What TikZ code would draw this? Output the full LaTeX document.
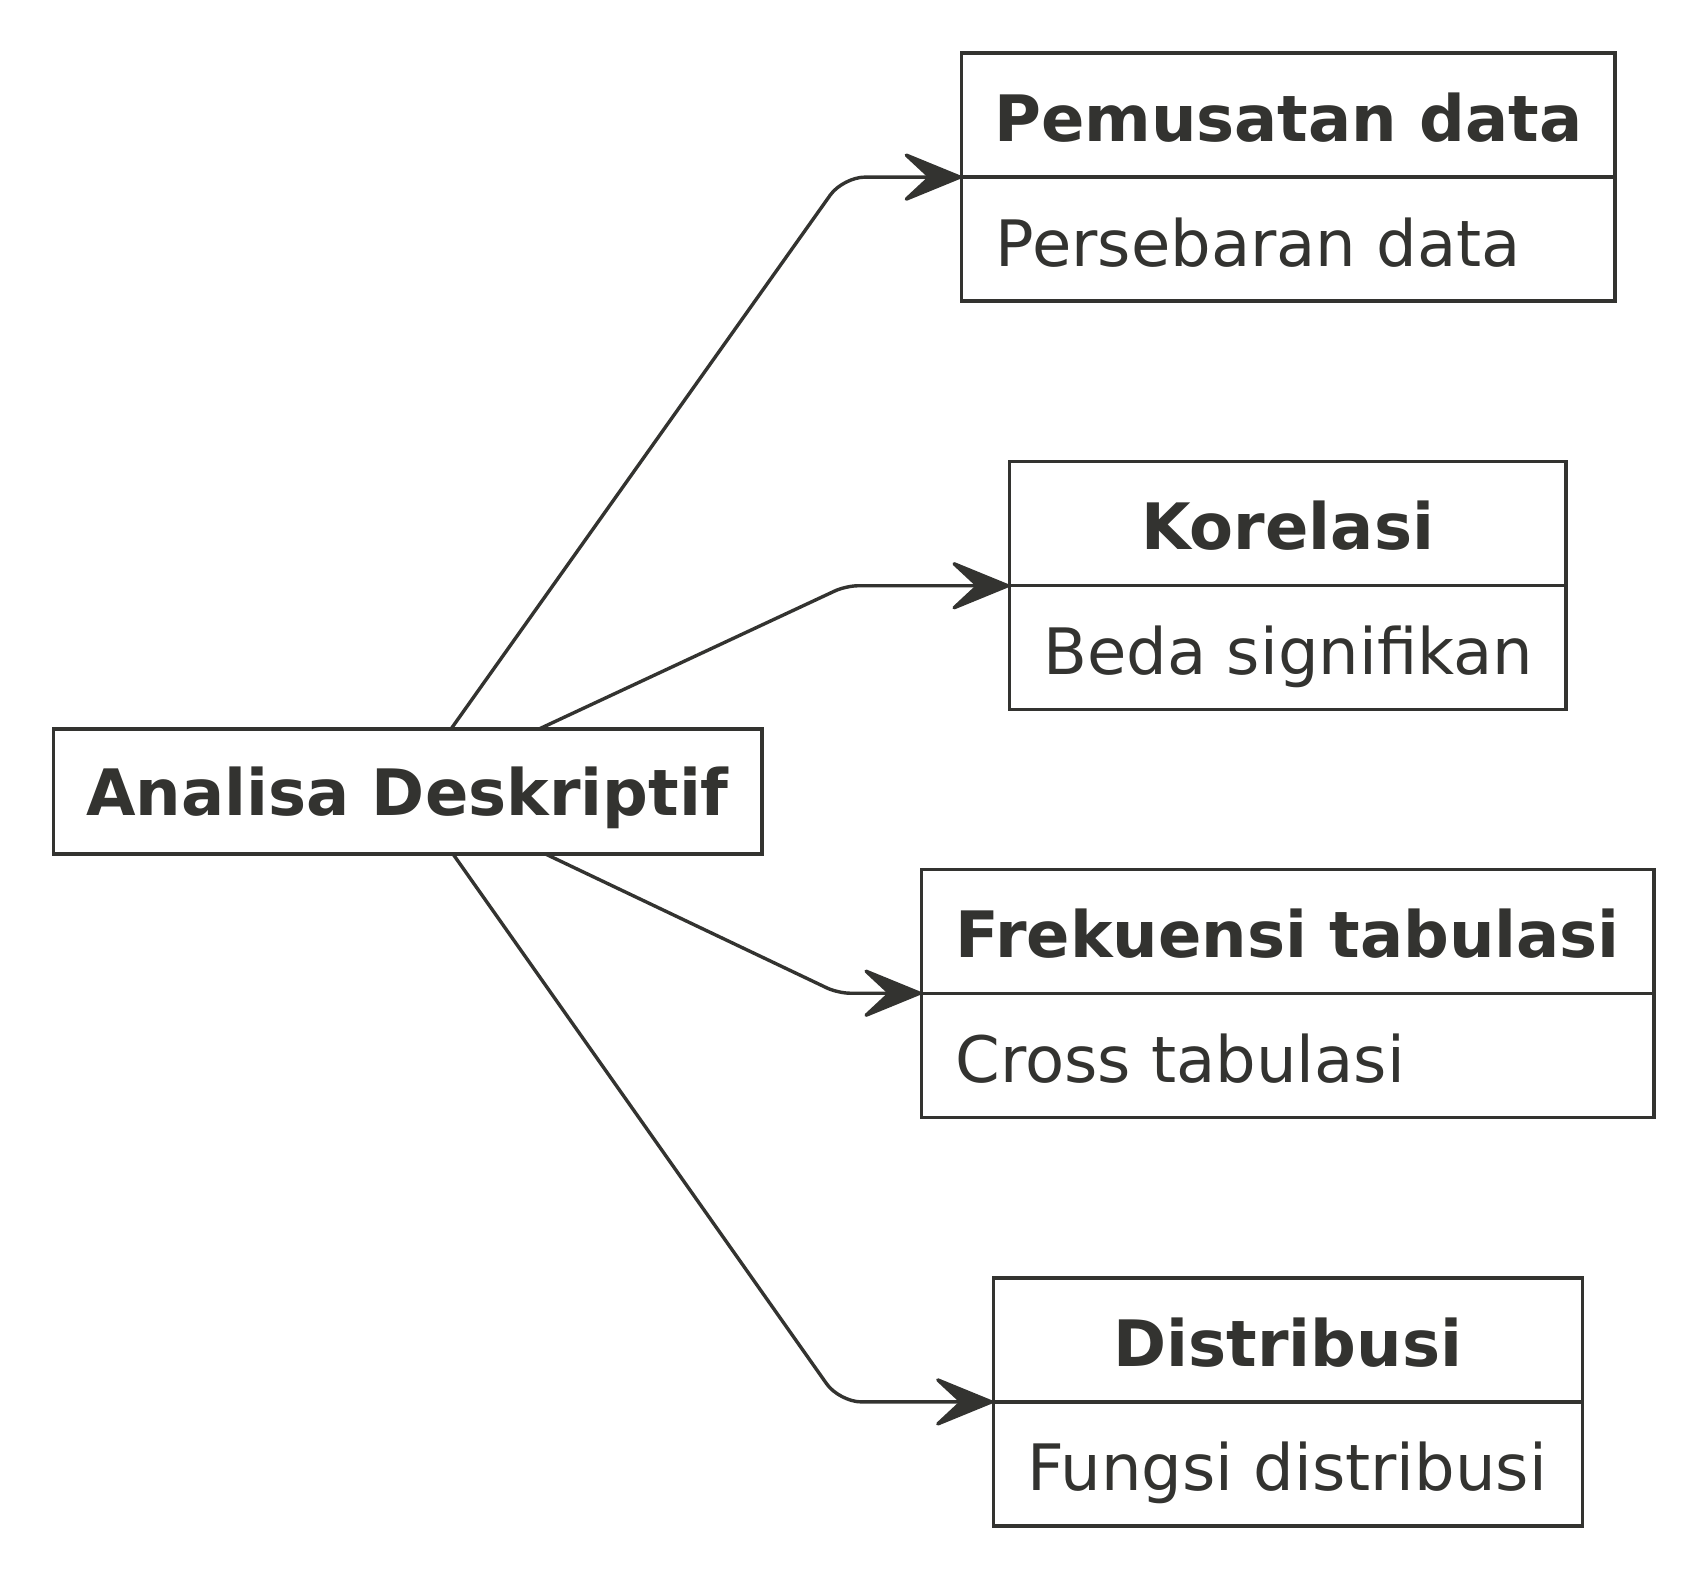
\documentclass[tikz,border=0pt]{standalone}
\usepackage{fontspec}
\setmainfont{DejaVu Sans}
\usetikzlibrary{arrows.meta,calc}
\definecolor{ink}{RGB}{51,51,48}
\begin{document}
\begin{tikzpicture}[x=0.5pt,y=-0.5pt,
  font=\fontsize{32pt}{38pt}\selectfont,
  every node/.style={inner sep=0pt,outer sep=0pt,text=ink},
  boxstyle/.style={draw=ink,line width=1.7pt,rectangle,fill=white},
  classbox/.style={boxstyle,minimum height=124pt},
  titletext/.style={anchor=base,font=\fontsize{32pt}{38pt}\selectfont\bfseries},
  fieldtext/.style={anchor=base west},
  conn/.style={draw=ink,line width=1.7pt,rounded corners=11pt,
    -{Stealth[length=33pt,width=27pt,inset=14.5pt,round]}},
  tightconn/.style={conn,rounded corners=6pt},
  divider/.style={draw=ink,line width=1.7pt}]
\useasboundingbox[fill=white] (0,0) rectangle (1704,1576);

% boxes
\node[boxstyle,minimum width=354.3pt,minimum height=62.5pt] (an) at (407.5,791.5) {};
\node[titletext] (ant) at (407.5,815) {Analisa Deskriptif};

\node[classbox,minimum width=326.55pt] (p) at (1288.25,177.1) {};
\node[classbox,minimum width=278.25pt] (k) at (1287.75,585.75) {};
\node[classbox,minimum width=366.25pt] (f) at (1287.75,993.2) {};
\node[classbox,minimum width=294.5pt] (d) at (1287.7,1401.9) {};

\foreach \b in {p,k,f,d}{\draw[divider] (\b.west) -- (\b.east);}

\node[titletext] (pt) at (1288.25,141.2) {Pemusatan data};
\node[fieldtext] (pf) at (995.7,266.1) {Persebaran data};
\node[titletext] (kt) at (1287.75,549.9) {Korelasi};
\node[fieldtext] (kf) at (1043.5,674.7) {Beda signifikan};
\node[titletext] (ft) at (1287.75,957.4) {Frekuensi tabulasi};
\node[fieldtext] (ff) at (955.5,1082.3) {Cross tabulasi};
\node[titletext] (dt) at (1287.7,1366) {Distribusi};
\node[fieldtext] (df) at (1027.2,1490.8) {Fungsi distribusi};

% connector corners
\coordinate (cp) at (843,177.1);
\coordinate (ck) at (846,585.75);
\coordinate (cf) at (838,993.2);
\coordinate (cd) at (839.4,1401.9);

\draw[conn] ($(an.north)+(43.5,0)$) -- (cp) -- (p.west);
\draw[tightconn] ($(an.north)+(131.5,0)$) -- (ck) -- (k.west);
\draw[tightconn] ($(an.south)+(138,0)$) -- (cf) -- (f.west);
\draw[conn] ($(an.south)+(45.5,0)$) -- (cd) -- (d.west);
\end{tikzpicture}
\end{document}
